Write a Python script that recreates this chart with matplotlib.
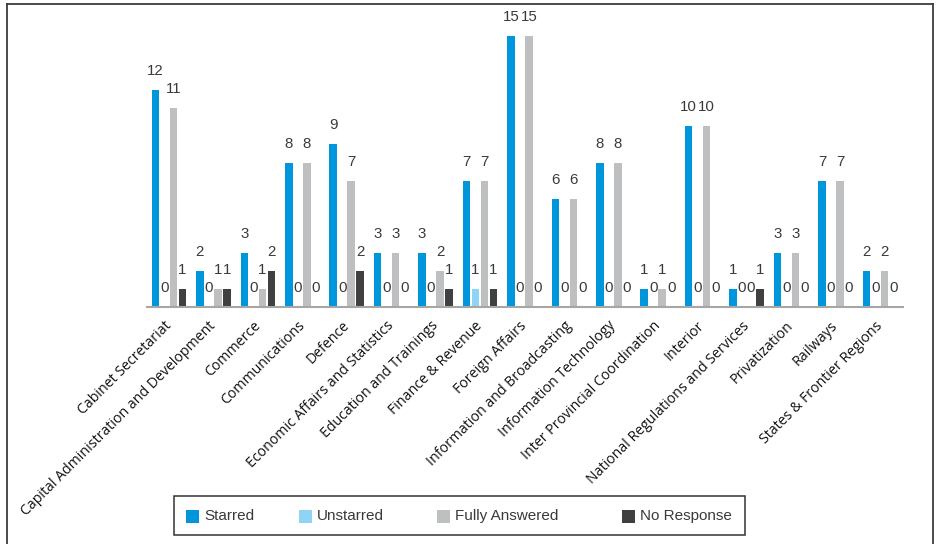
import matplotlib
matplotlib.use("Agg")
import matplotlib.pyplot as plt
import matplotlib.transforms as mtransforms
from matplotlib.patches import Rectangle
from matplotlib.lines import Line2D
import numpy as np

categories = [
    "Cabinet Secretariat",
    "Capital Administration and Development",
    "Commerce",
    "Communications",
    "Defence",
    "Economic Affairs and Statistics",
    "Education and Trainings",
    "Finance & Revenue",
    "Foreign Affairs",
    "Information and Broadcasting",
    "Information Technology",
    "Inter Provincial Coordination",
    "Interior",
    "National Regulations and Services",
    "Privatization",
    "Railways",
    "States & Frontier Regions",
]

starred = [12, 2, 3, 8, 9, 3, 3, 7, 15, 6, 8, 1, 10, 1, 3, 7, 2]
unstarred = [0, 0, 0, 0, 0, 0, 0, 1, 0, 0, 0, 0, 0, 0, 0, 0, 0]
fully_answered = [11, 1, 1, 8, 7, 3, 2, 7, 15, 6, 8, 1, 10, 0, 3, 7, 2]
no_response = [1, 1, 2, 0, 2, 0, 1, 1, 0, 0, 0, 0, 0, 1, 0, 0, 0]

series_names = ["Starred", "Unstarred", "Fully Answered", "No Response"]
series_values = [starred, unstarred, fully_answered, no_response]
series_colors = ["#0096db", "#8fd4f5", "#bebfc1", "#404040"]

W, H = 936, 544
fig = plt.figure(figsize=(W / 100, H / 100), dpi=100)

# plot area in pixel units
ax_left, ax_right = 147, 903
ax_base, ax_top = 307, 18
ax = fig.add_axes([ax_left / W, 1 - ax_base / H,
                   (ax_right - ax_left) / W, (ax_base - ax_top) / H])

x = np.arange(len(categories))
offsets = [-0.304, -0.101, 0.101, 0.304]
bar_w = 0.168

num_font = dict(family=["Liberation Sans", "DejaVu Sans"], size=10.8, color="#3a3a3a")

for vals, off, col in zip(series_values, offsets, series_colors):
    bars = ax.bar(x + off, vals, width=bar_w, color=col, linewidth=0, zorder=2)
    for b, v in zip(bars, vals):
        ax.annotate(str(v), (b.get_x() + b.get_width() / 2, v),
                    xytext=(0, 10.8), textcoords="offset points",
                    ha="center", va="baseline", **num_font)

ax.set_xlim(-0.495, 16.52)
ax.set_ylim(0, 16)
ax.set_yticks([])
for s in ["left", "right", "top"]:
    ax.spines[s].set_visible(False)
ax.spines["bottom"].set_color("#a6a6a6")
ax.spines["bottom"].set_linewidth(1.5)
ax.set_xticks(x)
ax.set_xticklabels(categories, rotation=45, ha="right", va="top",
                   rotation_mode="anchor",
                   family=["Open Sans", "DejaVu Sans"], fontsize=10.2, color="#111111")
ax.tick_params(axis="x", length=0, pad=6)
shift = mtransforms.ScaledTranslation(-5 / 100, -3 / 100, fig.dpi_scale_trans)
for lbl in ax.get_xticklabels():
    lbl.set_transform(lbl.get_transform() + shift)

# outer frame (left, top, right)
def px(xp, yp):
    return xp / W, 1 - yp / H

frame_col = "#3c3c3c"
for (x0, y0), (x1, y1) in [((7.5, 560), (7.5, 4)), ((7.5, 4), (933, 4)), ((933, 4), (933, 560))]:
    fx0, fy0 = px(x0, y0)
    fx1, fy1 = px(x1, y1)
    fig.add_artist(Line2D([fx0, fx1], [fy0, fy1], color=frame_col, lw=1.3,
                          transform=fig.transFigure))

# legend box
lx0, ly0, lx1, ly1 = 174, 496, 745, 535
fx, fy = px(lx0, ly1)
fig.add_artist(Rectangle((fx, fy), (lx1 - lx0) / W, (ly1 - ly0) / H,
                         transform=fig.transFigure, facecolor="white",
                         edgecolor="#333333", lw=1.1))
sq_x = [186, 299, 437, 622]
txt_x = [204, 317, 455, 640]
sq = 13
cy = 516
for name, col, sx, tx in zip(series_names, series_colors, sq_x, txt_x):
    fx, fy = px(sx, cy + sq / 2)
    fig.add_artist(Rectangle((fx, fy), sq / W, sq / H, transform=fig.transFigure,
                             facecolor=col, edgecolor="none"))
    tfx, tfy = px(tx, cy)
    fig.text(tfx, tfy, name, ha="left", va="center",
             family=["Liberation Sans", "DejaVu Sans"], size=11, color="#3a3a3a")

fig.savefig("out.png", dpi=100, facecolor="white")
